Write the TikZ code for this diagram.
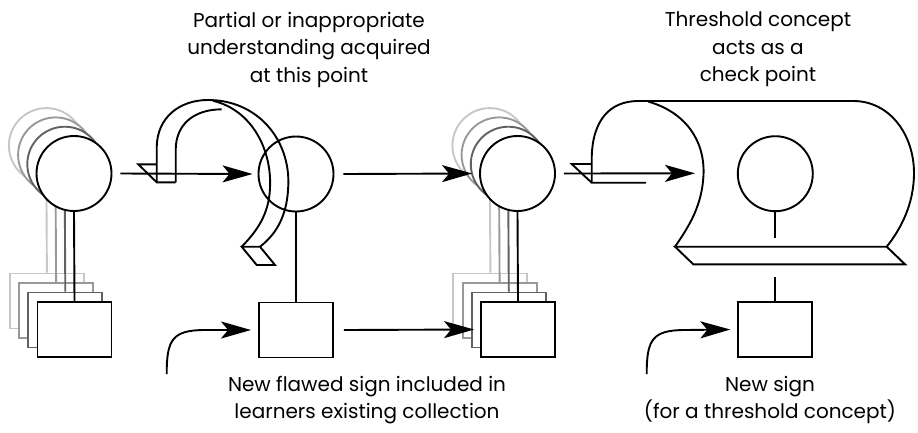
\documentclass[tikz,border=0pt]{standalone}
\usepackage{fontspec}
\setmainfont{Poppins}
\usetikzlibrary{arrows.meta}
\begin{document}
\begin{tikzpicture}[x=1pt,y=-1pt,
  line width=1.9pt, line join=miter,
  circ/.style={circle,draw=#1,fill=white,minimum size=75pt,inner sep=0pt},
  circ/.default=black,
  sq/.style={rectangle,draw=#1,fill=white,minimum width=74pt,minimum height=55pt,inner sep=0pt},
  sq/.default=black,
  arr/.style={-{Stealth[length=30pt,width=17pt,inset=7pt]}},
  lbl/.style={align=center,inner sep=0pt,font=\fontsize{20}{27.5}\selectfont}
]
\useasboundingbox (0,0) rectangle (918,432);

% ---------- stack 1 ----------
\foreach \k/\c in {3/black!22,2/black!40,1/black!62}{
  \node[circ=\c] (s1c\k) at (74-9.2*\k,173.5-9.3*\k) {};
  \node[sq=\c] (s1b\k) at (74.5-9.2*\k,329.5-9.5*\k) {};
  \draw[\c] (s1c\k.south) -- (s1b\k.north);
}
\node[circ] (c1) at (74,173.5) {};
\node[sq] (b1) at (74.5,329.5) {};
\draw (c1.south) -- (b1.north);

% ---------- stack 2 ----------
\node[circ] (c2) at (296,174) {};
\node[sq] (b2) at (296,330) {};
\draw (c2.south) -- (b2.north);

% ---------- stack 3 ----------
\foreach \k/\c in {3/black!22,2/black!40,1/black!62}{
  \node[circ=\c] (s3c\k) at (517.5-9.2*\k,173.5-9.3*\k) {};
  \node[sq=\c] (s3b\k) at (518-9.2*\k,329.5-9.5*\k) {};
  \draw[\c] (s3c\k.south) -- (s3b\k.north);
}
\node[circ] (c3) at (517.5,173.5) {};
\node[sq] (b3) at (518,329.5) {};
\draw (c3.south) -- (b3.north);

% ---------- stack 4 ----------
\node[circ] (c4) at (775.3,173.7) {};
\coordinate (c4end) at (775.3,238);
\draw (c4.south) -- (c4end);
\node[sq] (b4) at (775.3,329.5) {};
\coordinate (b4top) at (775.3,277);
\draw (b4.north) -- (b4top);

% ---------- ribbon 1 (partial understanding) ----------
\draw (156.7,182.3) -- (156.7,148) .. controls (156.7,117) and (180,100) .. (208,100)
      .. controls (258,100) and (290,140) .. (288.3,185)
      .. controls (287.5,212) and (279,232) .. (260,246.7);
\draw (175.7,182.3) -- (175.7,150) .. controls (175.7,125) and (193,109.5) .. (221.7,109.3);
\draw (213,100.8) .. controls (252,110) and (272,150) .. (270,188)
      .. controls (269,215) and (256,232) .. (241.7,246.7);
\draw (156.7,164.3) -- (138.3,164.3) -- (156.7,182.3) -- (175.7,182.3);
\draw (241.7,246.7) -- (260,246.7) -- (275,265) -- (256.7,265) -- cycle;

% ---------- ribbon 2 (threshold concept) ----------
\draw (591.7,182.7) -- (591.7,160) .. controls (591.7,120) and (610,101) .. (638.3,101)
      -- (853.3,101) .. controls (890,101) and (914,135) .. (914,173)
      .. controls (914,205) and (900,230) .. (886.7,246.7);
\draw (648,101.5) .. controls (685,112) and (705,140) .. (703.5,175)
      .. controls (702,205) and (690,225) .. (675,246.7);
\draw (591.7,164) -- (571.7,164) -- (591.7,182.7) -- (646,182.7);
\draw (675,246.7) -- (886.7,246.7) -- (905,264.3) -- (693.3,264.3) -- cycle;

% ---------- arrows ----------
\draw[arr] ([xshift=8pt]c1.east) -- ([xshift=-5pt]c2.west);
\draw[arr] ([xshift=9pt]c2.east) -- ([xshift=-7pt]c3.west);
\draw[arr] ([xshift=10pt]b2.east) -- ([xshift=-6pt]b3.west);
\coordinate (rib) at (695,173.3);
\draw[arr] ([xshift=8pt]c3.east) -- (rib);
\coordinate (s2) at (166.7,374);
\draw[arr] (s2) .. controls (166.7,340) and (172,330) .. (205,330) -- ([xshift=-7pt]b2.west);
\coordinate (s4) at (646.7,374);
\draw[arr] (s4) .. controls (646.7,340) and (652,330) .. (685,330) -- ([xshift=-7pt]b4.west);

% ---------- labels ----------
\node[lbl] (t1) at (309,49.5) {Partial or inappropriate\\understanding acquired\\at this point};
\node[lbl] (t2) at (758,49.5) {Threshold concept\\acts as a\\check point};
\node[lbl] (t3) at (367,400) {New flawed sign included in\\learners existing collection};
\node[lbl] (t4) at (770,400) {New sign\\(for a threshold concept)};
\end{tikzpicture}
\end{document}
